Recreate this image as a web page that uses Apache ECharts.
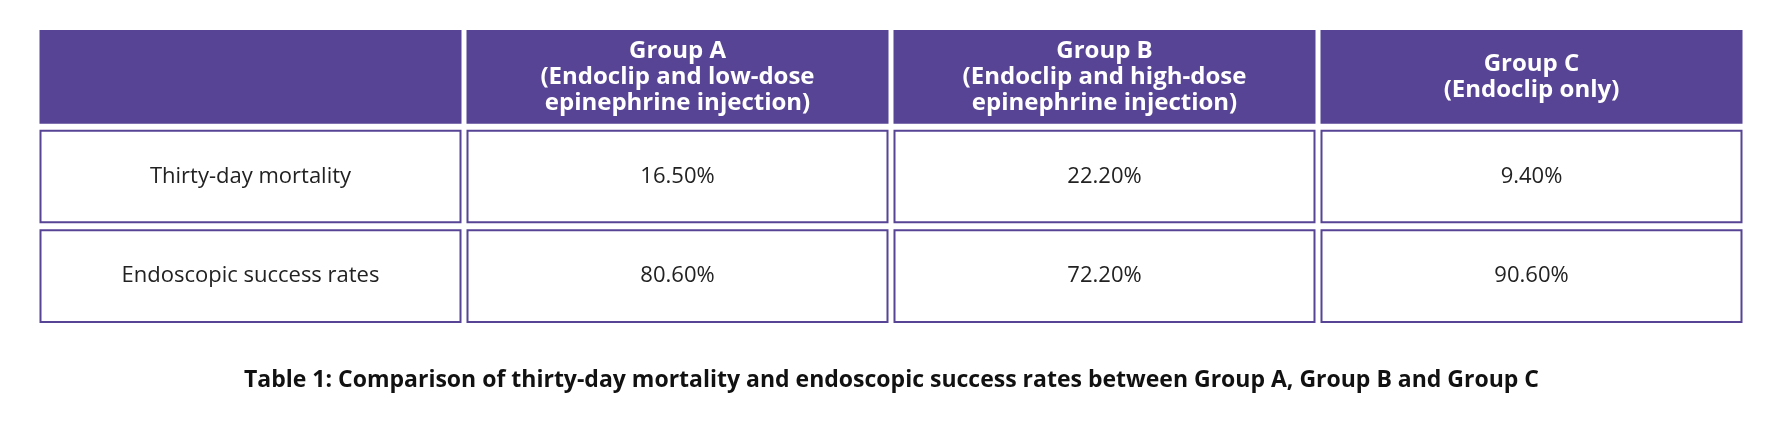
<!DOCTYPE html>
<html>
<head>
<meta charset="utf-8">
<script src="https://cdn.jsdelivr.net/npm/echarts@6/dist/echarts.min.js"></script>
<style>html,body{margin:0;padding:0;background:#fff}#chart{width:1783px;height:424px}</style>
</head>
<body>
<div id="chart"></div>
<script>
var columns = ['', 'Group A\n(Endoclip and low-dose\nepinephrine injection)', 'Group B\n(Endoclip and high-dose\nepinephrine injection)', 'Group C\n(Endoclip only)'];
var rowLabels = ['Thirty-day mortality', 'Endoscopic success rates'];
var mortality = ['16.50%', '22.20%', '9.40%'];
var success = ['80.60%', '72.20%', '90.60%'];
var caption = 'Table 1: Comparison of thirty-day mortality and endoscopic success rates between Group A, Group B and Group C';

var cells = [];
columns.forEach(function (c, i) { cells.push([i, 0, c]); });
[mortality, success].forEach(function (vals, r) {
  cells.push([0, r + 1, rowLabels[r]]);
  vals.forEach(function (v, i) { cells.push([i + 1, r + 1, v]); });
});

var purple = '#574495';
var font = '"Open Sans", Lato, sans-serif';

var myChart = echarts.init(document.getElementById('chart'));
myChart.setOption({
  title: {
    text: caption, left: 'center', top: 364,
    textStyle: { fontFamily: font, fontSize: 23, fontWeight: 'bold', color: '#111' }
  },
  grid: { left: 37, right: 38, top: 27, bottom: 98 },
  xAxis: { type: 'category', data: [0, 1, 2, 3], show: false },
  yAxis: { type: 'category', data: [0, 1, 2], inverse: true, show: false },
  series: [{
    type: 'custom',
    data: cells,
    renderItem: function (params, api) {
      var p = api.coord([api.value(0), api.value(1)]);
      var s = api.size([1, 1]);
      var w = s[0] - 7, h = s[1] - 8;
      var head = api.value(1) === 0;
      var txt = cells[params.dataIndex][2];
      return {
        type: 'group',
        children: [{
          type: 'rect',
          shape: { x: p[0] - w / 2, y: p[1] - h / 2, width: w, height: h },
          style: { fill: head ? purple : '#fff', stroke: purple, lineWidth: 2 }
        }, {
          type: 'text',
          x: p[0], y: p[1],
          style: {
            text: txt, align: 'center', verticalAlign: 'middle',
            fontFamily: font, fontSize: head ? 24 : 22, lineHeight: head ? 26 : 26,
            fontWeight: head ? 'bold' : 'normal', fill: head ? '#fff' : '#222'
          }
        }]
      };
    }
  }]
});
</script>
</body>
</html>
